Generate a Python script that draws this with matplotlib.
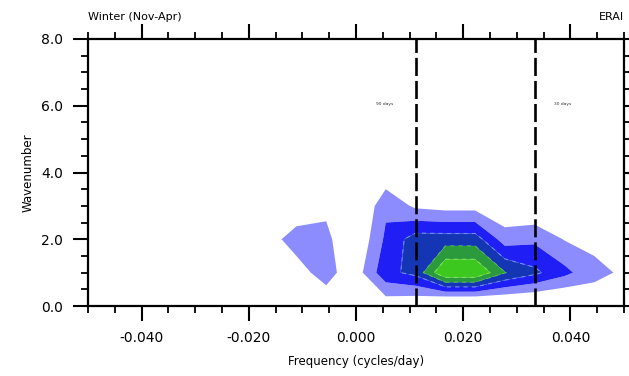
import numpy as np
import matplotlib
matplotlib.use("Agg")
import matplotlib.pyplot as plt

plt.rcParams['font.family'] = ['DejaVu Sans']
plt.rcParams['lines.scale_dashes'] = False

# ---- data ----
freq_index = np.arange(-9, 10)          # frequency bins, in cycles per 180 days
frequencies = freq_index / 180.0        # cycles/day
wavenumbers = np.arange(0, 9)           # zonal wavenumber

# power (arbitrary units), rows = wavenumber 0..8, cols = frequency bins
power_w0 = [0, 0, 0, 0, 0, 0, 0,    0,    0.54,  0,    0.3, 0,   -1,  -1,  -0.6, -0.6, -0.6, 0.34, 0.3]
power_w1 = [0, 0, 0, 0, 0, 0, 0.3,  0.74, 1.28,  0.5,  2.7, 3.3,  6,   6,   4.05, 3.23, 2.3,  1.27, 0.85]
power_w2 = [0, 0, 0, 0, 0, 0, 0.74, 1.26, 1.245, 0.02, 2.2, 3.5,  3.5, 3.5, 1.5,  1.78, 0.95, 0.73, 0.5]
power_w3 = [0, 0, 0, 0, 0, 0, 0,    0.59, 0.79, -0.36, 1.8, 0.8,  0.6, 0.6, 0.11, 0,    0,    0,    0]
power_w4 = [0, 0, 0, 0, 0, 0, 0,    0,    0,    -0.5,  0.2, 0,    0,   0,   0,    0,    0,    0,    0]
power_w5 = [0] * 19
power_w6 = [0] * 19
power_w7 = [0] * 19
power_w8 = [0] * 19

levels = [1, 2, 3, 4, 5, 100]
fill_colors = ['#8c8cff', '#1e1ef5', '#1436b4', '#2a9a3c', '#3cc81e']

period_lines = [1 / 90.0, 1 / 30.0]
period_labels = ['90 days', '30 days']

x_ticks = [-0.04, -0.02, 0.0, 0.02, 0.04]
x_ticklabels = ['-0.040', '-0.020', '0.000', '0.020', '0.040']
y_ticks = [0, 2, 4, 6, 8]
y_ticklabels = ['0.0', '2.0', '4.0', '6.0', '8.0']

# ---- figure ----
W, H = 629, 376
fig = plt.figure(figsize=(W / 100, H / 100), dpi=100)
L, R, T, B = 88, 624, 39, 306
ax = fig.add_axes([L / W, 1 - B / H, (R - L) / W, (B - T) / H])

Z = np.array([power_w0, power_w1, power_w2, power_w3, power_w4,
              power_w5, power_w6, power_w7, power_w8])
ax.contourf(frequencies, wavenumbers, Z, levels=levels, colors=fill_colors, antialiased=True)
ax.contour(frequencies, wavenumbers, Z, levels=[3], colors=['#6f8cff'],
           linewidths=0.8, linestyles=[(0, (3, 3))])
ax.contour(frequencies, wavenumbers, Z, levels=[4, 5], colors=['#4fb85a', '#7fe050'],
           linewidths=0.8, linestyles=[(0, (3, 3))])

for xv in period_lines:
    ax.axvline(xv, color='black', lw=1.9, linestyle=(0, (13, 3.6)), zorder=5)

ax.text(period_lines[0] - 0.0057, 6.05, period_labels[0], fontsize=3.2,
        ha='center', va='center', color='#333333')
ax.text(period_lines[1] + 0.0053, 6.05, period_labels[1], fontsize=3.2,
        ha='center', va='center', color='#333333')

ax.set_xlim(-0.05, 0.05)
ax.set_ylim(0, 8)
ax.set_xticks(x_ticks)
ax.set_xticklabels(x_ticklabels)
ax.set_yticks(y_ticks)
ax.set_yticklabels(y_ticklabels)
ax.set_xticks(np.arange(-0.05, 0.0501, 0.005), minor=True)
ax.set_yticks(np.arange(0, 8.01, 0.5), minor=True)

for s in ax.spines.values():
    s.set_linewidth(1.6)
ax.tick_params(which='major', direction='out', length=11, width=1.5, pad=7,
               top=True, right=True, labelsize=10, colors='black')
ax.tick_params(which='minor', direction='out', length=5, width=1.3,
               top=True, right=True)

fig.text(L / W, 1 - 17 / H, 'Winter (Nov-Apr)', fontsize=8, ha='left', va='center')
fig.text(R / W, 1 - 17 / H, 'ERAI', fontsize=8, ha='right', va='center')
fig.text(28 / W, 1 - 173 / H, 'Wavenumber', fontsize=8.5, rotation=90, ha='center', va='center')
fig.text(356 / W, 1 - 362 / H, 'Frequency (cycles/day)', fontsize=8.5, ha='center', va='center')

fig.savefig('out.png', dpi=100)
